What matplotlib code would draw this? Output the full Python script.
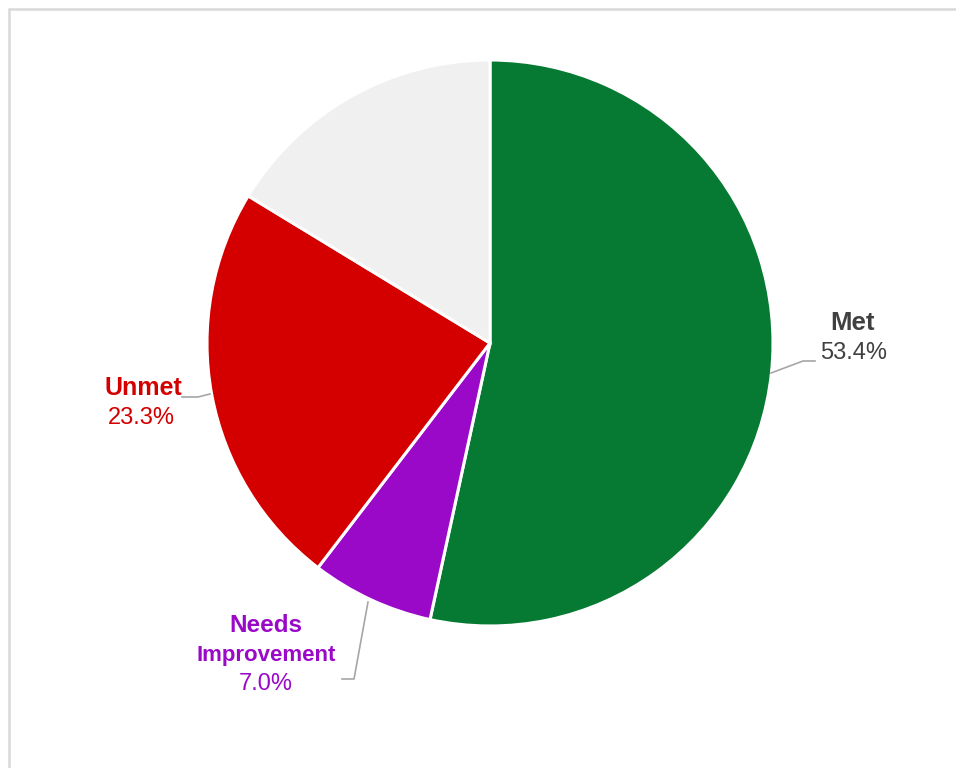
import matplotlib.pyplot as plt
from matplotlib.patches import Rectangle

plt.rcParams['font.family'] = ['Liberation Sans', 'DejaVu Sans']

# datos del grafico
categorias = ['Met', 'Needs Improvement', 'Unmet', 'Otro']
valores = [53.4, 7.0, 23.3, 16.3]
colores = ['#067a32', '#9b09c8', '#d40000', '#f0f0f0']
etiquetas = ['Met', 'Needs\nImprovement', 'Unmet', None]
etiquetas_pct = ['53.4%', '7.0%', '23.3%', None]
colores_texto = ['#404040', '#9b09c8', '#d40000', None]

W, H = 956, 768
fig = plt.figure(figsize=(W / 100, H / 100), dpi=100)
ax = fig.add_axes([0, 0, 1, 1])

cx, cy, r = 490, H - 343, 283
ax.pie(valores, colors=colores, startangle=90, counterclock=False,
       center=(cx, cy), radius=r,
       wedgeprops=dict(edgecolor='white', linewidth=2.2))

ax.set_xlim(0, W)
ax.set_ylim(0, H)
ax.set_aspect('auto')
ax.axis('off')

# borde del area del grafico
ax.add_patch(Rectangle((9, -10), W, H - 9 + 10, fill=False,
                       edgecolor='#d9d9d9', linewidth=1.8))

linea = dict(color='#a6a6a6', linewidth=1.2)
# lineas guia (coordenadas en pixeles desde arriba)
def guia(xs, ys):
    ax.plot(xs, [H - y for y in ys], **linea)

guia([771, 803, 815], [373, 361, 361])
guia([210, 198, 182], [394, 397, 397])
guia([368, 354, 342], [602, 679, 679])

def texto(x, y, s, color, bold=False, size=17):
    ax.text(x, H - y, s, color=color, ha='center', va='center',
            fontsize=size, fontweight='bold' if bold else 'normal')

texto(853, 323, etiquetas[0], colores_texto[0], bold=True, size=18.5)
texto(854, 353, etiquetas_pct[0], colores_texto[0])

texto(143, 388, etiquetas[2], colores_texto[2], bold=True, size=18)
texto(141, 418, etiquetas_pct[2], colores_texto[2])

texto(266, 626, 'Needs', colores_texto[1], bold=True, size=17.5)
texto(266, 655, 'Improvement', colores_texto[1], bold=True, size=16)
texto(266, 684, etiquetas_pct[1], colores_texto[1])

fig.savefig('out.png', dpi=100)
